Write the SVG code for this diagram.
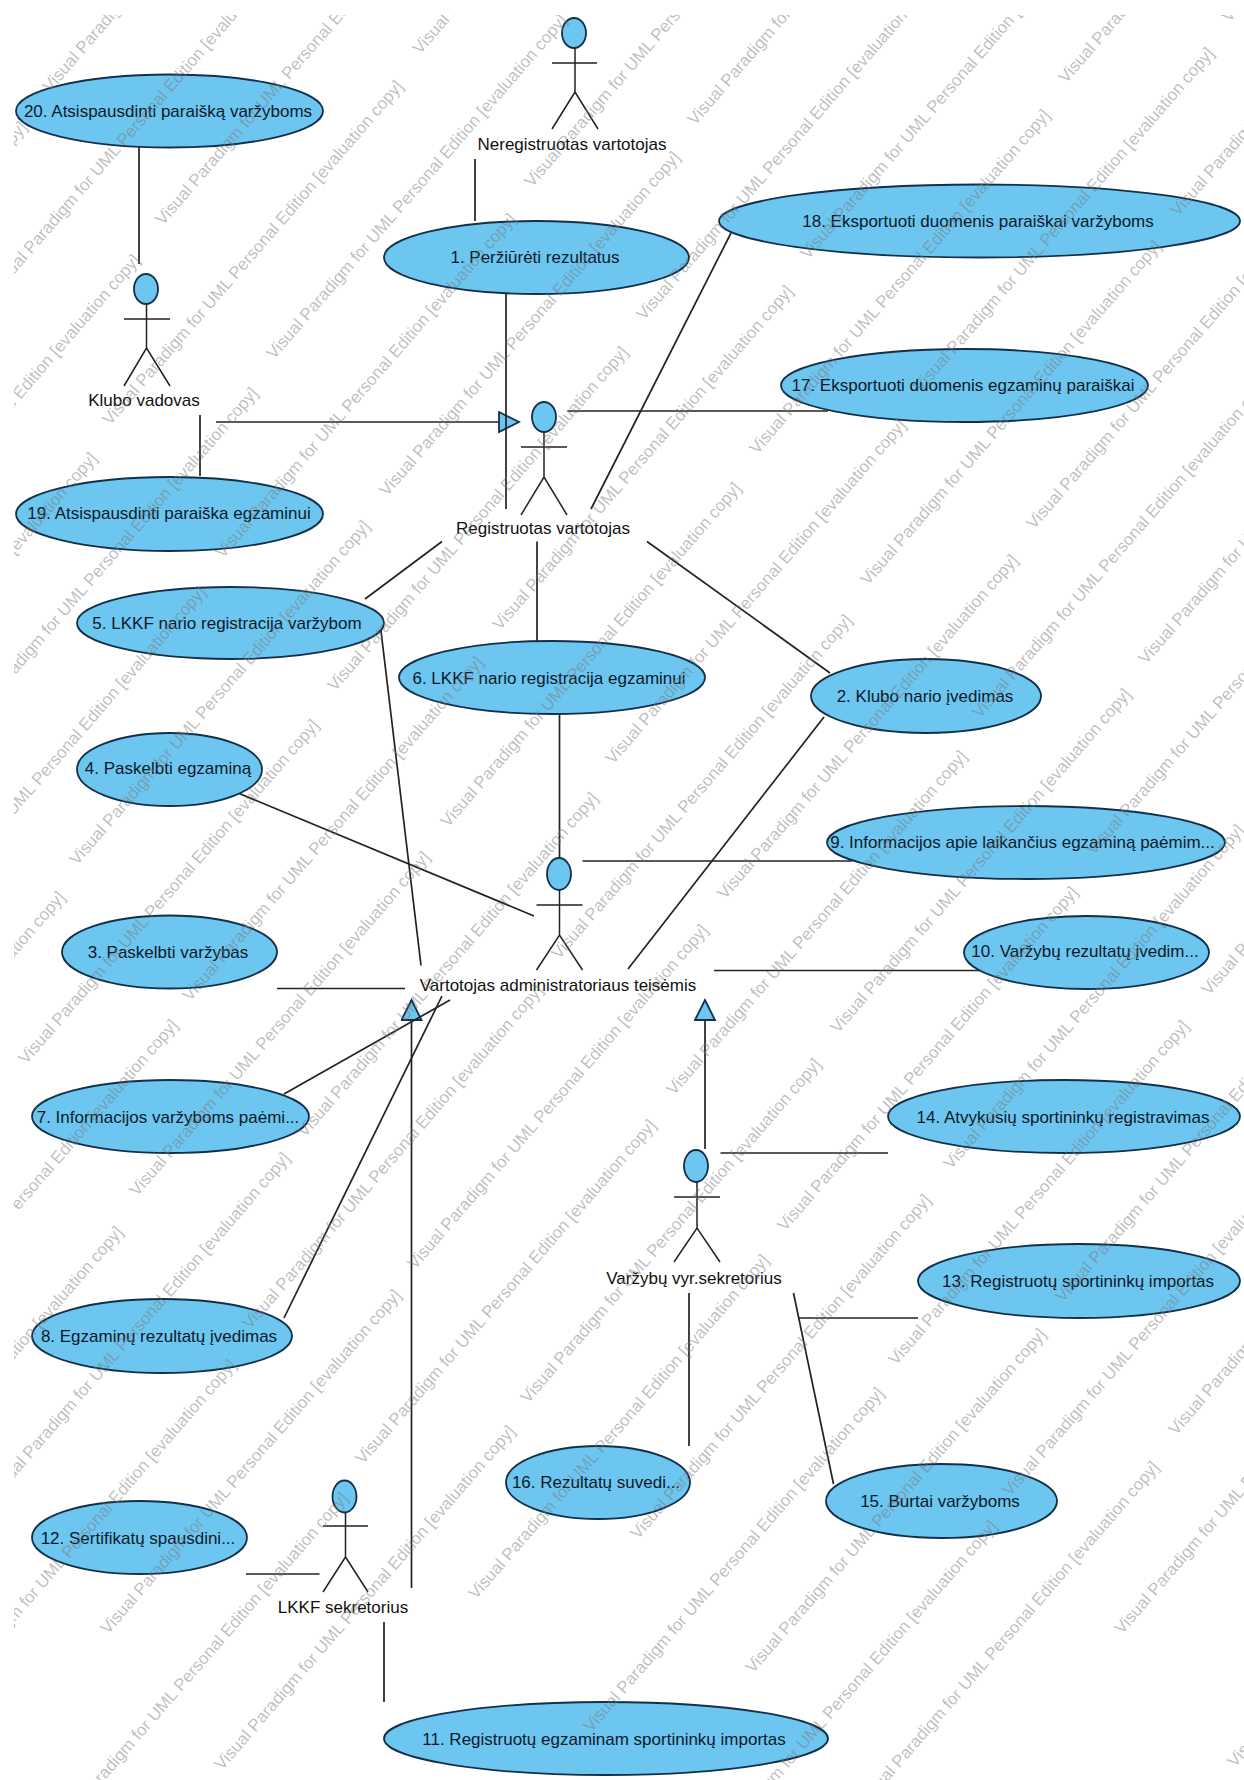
<svg xmlns="http://www.w3.org/2000/svg" width="1244" height="1780" viewBox="0 0 1244 1780">
<style>
.uc{fill:#6dc6f0;stroke:#12304a;stroke-width:1.8}
.head{fill:#6dc6f0;stroke:#12304a;stroke-width:1.8}
.stick{fill:none;stroke:#222;stroke-width:1.5}
.c{stroke:#222;stroke-width:1.7;fill:none}
.t{font-family:"Liberation Sans",Arial,sans-serif;font-size:17px;fill:#0c1a2a;text-anchor:middle}
.a{font-family:"Liberation Sans",Arial,sans-serif;font-size:17px;fill:#111;text-anchor:middle}
.wm text{font-family:"Liberation Sans",Arial,sans-serif;font-size:17px;fill:#777;fill-opacity:.48}
</style>
<defs>
<marker id="gen" markerUnits="userSpaceOnUse" markerWidth="24" markerHeight="24" refX="21" refY="11" orient="auto">
<path d="M1,1 L21,11 L1,21 Z" fill="#6dc6f0" stroke="#12304a" stroke-width="1.8"/>
</marker>
<clipPath id="wmclip"><rect x="14" y="15" width="1230" height="1765"/></clipPath>
</defs>
<rect width="1244" height="1780" fill="#fff"/>
<g id="connectors">
<line class="c" x1="216" y1="422" x2="519" y2="422" marker-end="url(#gen)"/>
<line class="c" x1="411.5" y1="1588" x2="411.5" y2="1000" marker-end="url(#gen)"/>
<line class="c" x1="705" y1="1149" x2="705" y2="1000" marker-end="url(#gen)"/>
<line class="c" x1="139" y1="147" x2="139" y2="264"/>
<line class="c" x1="475" y1="159" x2="475" y2="221"/>
<line class="c" x1="506" y1="294" x2="506" y2="509"/>
<line class="c" x1="200" y1="415" x2="200" y2="476"/>
<line class="c" x1="567.5" y1="411" x2="828" y2="411"/>
<line class="c" x1="731" y1="233" x2="591" y2="509"/>
<line class="c" x1="442" y1="541.5" x2="365" y2="599"/>
<line class="c" x1="537" y1="541.5" x2="537" y2="641"/>
<line class="c" x1="647" y1="541.5" x2="830" y2="673"/>
<line class="c" x1="559.5" y1="714" x2="559.5" y2="860"/>
<line class="c" x1="381" y1="631" x2="421" y2="965.5"/>
<line class="c" x1="238" y1="793" x2="534" y2="916"/>
<line class="c" x1="824" y1="717" x2="628" y2="969"/>
<line class="c" x1="582.5" y1="861" x2="852" y2="861"/>
<line class="c" x1="277" y1="988.5" x2="405" y2="988.5"/>
<line class="c" x1="284" y1="1094" x2="450" y2="1000"/>
<line class="c" x1="284" y1="1318" x2="442" y2="996"/>
<line class="c" x1="714" y1="970.5" x2="981" y2="970.5"/>
<line class="c" x1="720.5" y1="1153" x2="888" y2="1153"/>
<line class="c" x1="799" y1="1318" x2="918" y2="1318"/>
<line class="c" x1="793.5" y1="1293" x2="833.5" y2="1484"/>
<line class="c" x1="689" y1="1293" x2="689" y2="1446"/>
<line class="c" x1="246" y1="1574" x2="319.5" y2="1574"/>
<line class="c" x1="384" y1="1622" x2="384" y2="1702"/>
</g>
<g id="uc20"><ellipse class="uc" cx="169.5" cy="111" rx="153.5" ry="36.5"/><text class="t" x="168" y="117">20. Atsispausdinti paraišką varžyboms</text></g>
<g id="uc1"><ellipse class="uc" cx="536.5" cy="257.5" rx="152.5" ry="36.5"/><text class="t" x="535" y="263">1. Peržiūrėti rezultatus</text></g>
<g id="uc19"><ellipse class="uc" cx="169.5" cy="514" rx="153.5" ry="37"/><text class="t" x="169" y="519">19. Atsispausdinti paraiška egzaminui</text></g>
<g id="uc18"><ellipse class="uc" cx="979.5" cy="221" rx="260.5" ry="36.5"/><text class="t" x="978" y="227">18. Eksportuoti duomenis paraiškai varžyboms</text></g>
<g id="uc17"><ellipse class="uc" cx="964.5" cy="385.5" rx="183.5" ry="36.5"/><text class="t" x="963" y="391">17. Eksportuoti duomenis egzaminų paraiškai</text></g>
<g id="uc5"><ellipse class="uc" cx="230.5" cy="623" rx="153.5" ry="36"/><text class="t" x="227" y="629">5. LKKF nario registracija varžybom</text></g>
<g id="uc6"><ellipse class="uc" cx="552" cy="677.5" rx="153" ry="36.5"/><text class="t" x="549" y="684">6. LKKF nario registracija egzaminui</text></g>
<g id="uc2"><ellipse class="uc" cx="926" cy="696" rx="115" ry="37"/><text class="t" x="925" y="702">2. Klubo nario įvedimas</text></g>
<g id="uc4"><ellipse class="uc" cx="169.5" cy="769.5" rx="92.5" ry="36.5"/><text class="t" x="168" y="774">4. Paskelbti egzaminą</text></g>
<g id="uc9"><ellipse class="uc" cx="1026" cy="842.5" rx="199" ry="36.5"/><text class="t" x="1022.5" y="848">9. Informacijos apie laikančius egzaminą paėmim...</text></g>
<g id="uc3"><ellipse class="uc" cx="169.5" cy="952" rx="107.5" ry="36.5"/><text class="t" x="168" y="958">3. Paskelbti varžybas</text></g>
<g id="uc10"><ellipse class="uc" cx="1086.5" cy="952.5" rx="122.5" ry="36.5"/><text class="t" x="1085" y="957">10. Varžybų rezultatų įvedim...</text></g>
<g id="uc7"><ellipse class="uc" cx="170.5" cy="1116.5" rx="138.5" ry="36.5"/><text class="t" x="168" y="1123">7. Informacijos varžyboms paėmi...</text></g>
<g id="uc14"><ellipse class="uc" cx="1064" cy="1116.5" rx="176" ry="36.5"/><text class="t" x="1063" y="1123">14. Atvykusių sportininkų registravimas</text></g>
<g id="uc13"><ellipse class="uc" cx="1079" cy="1281" rx="161" ry="37"/><text class="t" x="1078" y="1287">13. Registruotų sportininkų importas</text></g>
<g id="uc8"><ellipse class="uc" cx="162" cy="1336" rx="130" ry="37"/><text class="t" x="159" y="1342">8. Egzaminų rezultatų įvedimas</text></g>
<g id="uc16"><ellipse class="uc" cx="598" cy="1482.5" rx="92" ry="36.5"/><text class="t" x="596" y="1488">16. Rezultatų suvedi...</text></g>
<g id="uc15"><ellipse class="uc" cx="941.5" cy="1501" rx="115.5" ry="37"/><text class="t" x="940" y="1507">15. Burtai varžyboms</text></g>
<g id="uc12"><ellipse class="uc" cx="139.5" cy="1537.5" rx="107.5" ry="36.5"/><text class="t" x="138" y="1544">12. Sertifikatų spausdini...</text></g>
<g id="uc11"><ellipse class="uc" cx="606" cy="1738.5" rx="222" ry="36.5"/><text class="t" x="604" y="1745">11. Registruotų egzaminam sportininkų importas</text></g>
<g id="actor-neregistruotas"><ellipse class="head" cx="574" cy="33" rx="12" ry="15"/><path class="stick" d="M575,48V92M552,63H597M552,129L575,92L598,129"/><text class="a" x="572" y="150">Neregistruotas vartotojas</text></g>
<g id="actor-klubo"><ellipse class="head" cx="146" cy="289" rx="12" ry="15"/><path class="stick" d="M146.500,304V348M124,319H170M124,386L146.500,348L170,386"/><text class="a" x="144" y="406">Klubo vadovas</text></g>
<g id="actor-registruotas"><ellipse class="head" cx="544" cy="417" rx="12" ry="15"/><path class="stick" d="M544,432V477M521,447H567M521,515L544,477L567,515"/><text class="a" x="543" y="534">Registruotas vartotojas</text></g>
<g id="actor-admin"><ellipse class="head" cx="559" cy="874" rx="12" ry="16"/><path class="stick" d="M559.500,890V935M536.500,905H582.500M536.500,970L559.500,935L582.500,970"/><text class="a" x="558" y="991">Vartotojas administratoriaus teisėmis</text></g>
<g id="actor-vyr"><ellipse class="head" cx="696" cy="1166" rx="12" ry="16"/><path class="stick" d="M697,1182V1228M674,1197H720M674,1262L697,1228L720,1262"/><text class="a" x="694" y="1284">Varžybų vyr.sekretorius</text></g>
<g id="actor-lkkf"><ellipse class="head" cx="344.500" cy="1496.500" rx="12" ry="16"/><path class="stick" d="M345.500,1512V1557M323,1526H368M323,1592L345.500,1557L368,1592"/><text class="a" x="343" y="1613">LKKF sekretorius</text></g>
<g class="wm" clip-path="url(#wmclip)">
<text transform="translate(-266 467) rotate(-49.100)">Visual Paradigm for UML Personal Edition [evaluation copy]</text>
<text transform="translate(-153 600) rotate(-49.100)">Visual Paradigm for UML Personal Edition [evaluation copy]</text>
<text transform="translate(-35 733) rotate(-49.100)">Visual Paradigm for UML Personal Edition [evaluation copy]</text>
<text transform="translate(77 866) rotate(-49.100)">Visual Paradigm for UML Personal Edition [evaluation copy]</text>
<text transform="translate(190 1002) rotate(-49.100)">Visual Paradigm for UML Personal Edition [evaluation copy]</text>
<text transform="translate(305 1138) rotate(-49.100)">Visual Paradigm for UML Personal Edition [evaluation copy]</text>
<text transform="translate(415 1270) rotate(-49.100)">Visual Paradigm for UML Personal Edition [evaluation copy]</text>
<text transform="translate(528 1404) rotate(-49.100)">Visual Paradigm for UML Personal Edition [evaluation copy]</text>
<text transform="translate(638 1540) rotate(-49.100)">Visual Paradigm for UML Personal Edition [evaluation copy]</text>
<text transform="translate(753 1674) rotate(-49.100)">Visual Paradigm for UML Personal Edition [evaluation copy]</text>
<text transform="translate(866 1807) rotate(-49.100)">Visual Paradigm for UML Personal Edition [evaluation copy]</text>
<text transform="translate(-196 798) rotate(-49.100)">Visual Paradigm for UML Personal Edition [evaluation copy]</text>
<text transform="translate(-87 932) rotate(-49.100)">Visual Paradigm for UML Personal Edition [evaluation copy]</text>
<text transform="translate(26 1065) rotate(-49.100)">Visual Paradigm for UML Personal Edition [evaluation copy]</text>
<text transform="translate(137 1197) rotate(-49.100)">Visual Paradigm for UML Personal Edition [evaluation copy]</text>
<text transform="translate(250 1330) rotate(-49.100)">Visual Paradigm for UML Personal Edition [evaluation copy]</text>
<text transform="translate(363 1465) rotate(-49.100)">Visual Paradigm for UML Personal Edition [evaluation copy]</text>
<text transform="translate(476 1600) rotate(-49.100)">Visual Paradigm for UML Personal Edition [evaluation copy]</text>
<text transform="translate(591 1733) rotate(-49.100)">Visual Paradigm for UML Personal Edition [evaluation copy]</text>
<text transform="translate(704 1866) rotate(-49.100)">Visual Paradigm for UML Personal Edition [evaluation copy]</text>
<text transform="translate(-228 1237) rotate(-49.100)">Visual Paradigm for UML Personal Edition [evaluation copy]</text>
<text transform="translate(-115 1365) rotate(-49.100)">Visual Paradigm for UML Personal Edition [evaluation copy]</text>
<text transform="translate(-3 1498) rotate(-49.100)">Visual Paradigm for UML Personal Edition [evaluation copy]</text>
<text transform="translate(108 1635) rotate(-49.100)">Visual Paradigm for UML Personal Edition [evaluation copy]</text>
<text transform="translate(222 1771) rotate(-49.100)">Visual Paradigm for UML Personal Edition [evaluation copy]</text>
<text transform="translate(-170 1572) rotate(-49.100)">Visual Paradigm for UML Personal Edition [evaluation copy]</text>
<text transform="translate(-57 1705) rotate(-49.100)">Visual Paradigm for UML Personal Edition [evaluation copy]</text>
<text transform="translate(55 1838) rotate(-49.100)">Visual Paradigm for UML Personal Edition [evaluation copy]</text>
<text transform="translate(-115 160) rotate(-49.100)">Visual Paradigm for UML Personal Edition [evaluation copy]</text>
<text transform="translate(-2 293) rotate(-49.100)">Visual Paradigm for UML Personal Edition [evaluation copy]</text>
<text transform="translate(110 426) rotate(-49.100)">Visual Paradigm for UML Personal Edition [evaluation copy]</text>
<text transform="translate(223 559) rotate(-49.100)">Visual Paradigm for UML Personal Edition [evaluation copy]</text>
<text transform="translate(335 692) rotate(-49.100)">Visual Paradigm for UML Personal Edition [evaluation copy]</text>
<text transform="translate(448 828) rotate(-49.100)">Visual Paradigm for UML Personal Edition [evaluation copy]</text>
<text transform="translate(559 960) rotate(-49.100)">Visual Paradigm for UML Personal Edition [evaluation copy]</text>
<text transform="translate(674 1096) rotate(-49.100)">Visual Paradigm for UML Personal Edition [evaluation copy]</text>
<text transform="translate(785 1232) rotate(-49.100)">Visual Paradigm for UML Personal Edition [evaluation copy]</text>
<text transform="translate(896 1366) rotate(-49.100)">Visual Paradigm for UML Personal Edition [evaluation copy]</text>
<text transform="translate(1010 1497) rotate(-49.100)">Visual Paradigm for UML Personal Edition [evaluation copy]</text>
<text transform="translate(1122 1635) rotate(-49.100)">Visual Paradigm for UML Personal Edition [evaluation copy]</text>
<text transform="translate(1235 1768) rotate(-49.100)">Visual Paradigm for UML Personal Edition [evaluation copy]</text>
<text transform="translate(50 93) rotate(-49.100)">Visual Paradigm for UML Personal Edition [evaluation copy]</text>
<text transform="translate(163 226) rotate(-49.100)">Visual Paradigm for UML Personal Edition [evaluation copy]</text>
<text transform="translate(274 360) rotate(-49.100)">Visual Paradigm for UML Personal Edition [evaluation copy]</text>
<text transform="translate(387 497) rotate(-49.100)">Visual Paradigm for UML Personal Edition [evaluation copy]</text>
<text transform="translate(500 631) rotate(-49.100)">Visual Paradigm for UML Personal Edition [evaluation copy]</text>
<text transform="translate(613 765) rotate(-49.100)">Visual Paradigm for UML Personal Edition [evaluation copy]</text>
<text transform="translate(725 900) rotate(-49.100)">Visual Paradigm for UML Personal Edition [evaluation copy]</text>
<text transform="translate(838 1034) rotate(-49.100)">Visual Paradigm for UML Personal Edition [evaluation copy]</text>
<text transform="translate(951 1170) rotate(-49.100)">Visual Paradigm for UML Personal Edition [evaluation copy]</text>
<text transform="translate(1063 1303) rotate(-49.100)">Visual Paradigm for UML Personal Edition [evaluation copy]</text>
<text transform="translate(1176 1436) rotate(-49.100)">Visual Paradigm for UML Personal Edition [evaluation copy]</text>
<text transform="translate(420 55) rotate(-49.100)">Visual Paradigm for UML Personal Edition [evaluation copy]</text>
<text transform="translate(532 188) rotate(-49.100)">Visual Paradigm for UML Personal Edition [evaluation copy]</text>
<text transform="translate(644 321) rotate(-49.100)">Visual Paradigm for UML Personal Edition [evaluation copy]</text>
<text transform="translate(757 455) rotate(-49.100)">Visual Paradigm for UML Personal Edition [evaluation copy]</text>
<text transform="translate(868 586) rotate(-49.100)">Visual Paradigm for UML Personal Edition [evaluation copy]</text>
<text transform="translate(980 719) rotate(-49.100)">Visual Paradigm for UML Personal Edition [evaluation copy]</text>
<text transform="translate(1094 856) rotate(-49.100)">Visual Paradigm for UML Personal Edition [evaluation copy]</text>
<text transform="translate(1209 996) rotate(-49.100)">Visual Paradigm for UML Personal Edition [evaluation copy]</text>
<text transform="translate(695 126) rotate(-49.100)">Visual Paradigm for UML Personal Edition [evaluation copy]</text>
<text transform="translate(808 260) rotate(-49.100)">Visual Paradigm for UML Personal Edition [evaluation copy]</text>
<text transform="translate(921 393) rotate(-49.100)">Visual Paradigm for UML Personal Edition [evaluation copy]</text>
<text transform="translate(1034 530) rotate(-49.100)">Visual Paradigm for UML Personal Edition [evaluation copy]</text>
<text transform="translate(1146 665) rotate(-49.100)">Visual Paradigm for UML Personal Edition [evaluation copy]</text>
<text transform="translate(1066 84) rotate(-49.100)">Visual Paradigm for UML Personal Edition [evaluation copy]</text>
<text transform="translate(1178 217) rotate(-49.100)">Visual Paradigm for UML Personal Edition [evaluation copy]</text>
<text transform="translate(1229 23) rotate(-49.100)">Visual Paradigm for UML Personal Edition [evaluation copy]</text>
</g>
</svg>
